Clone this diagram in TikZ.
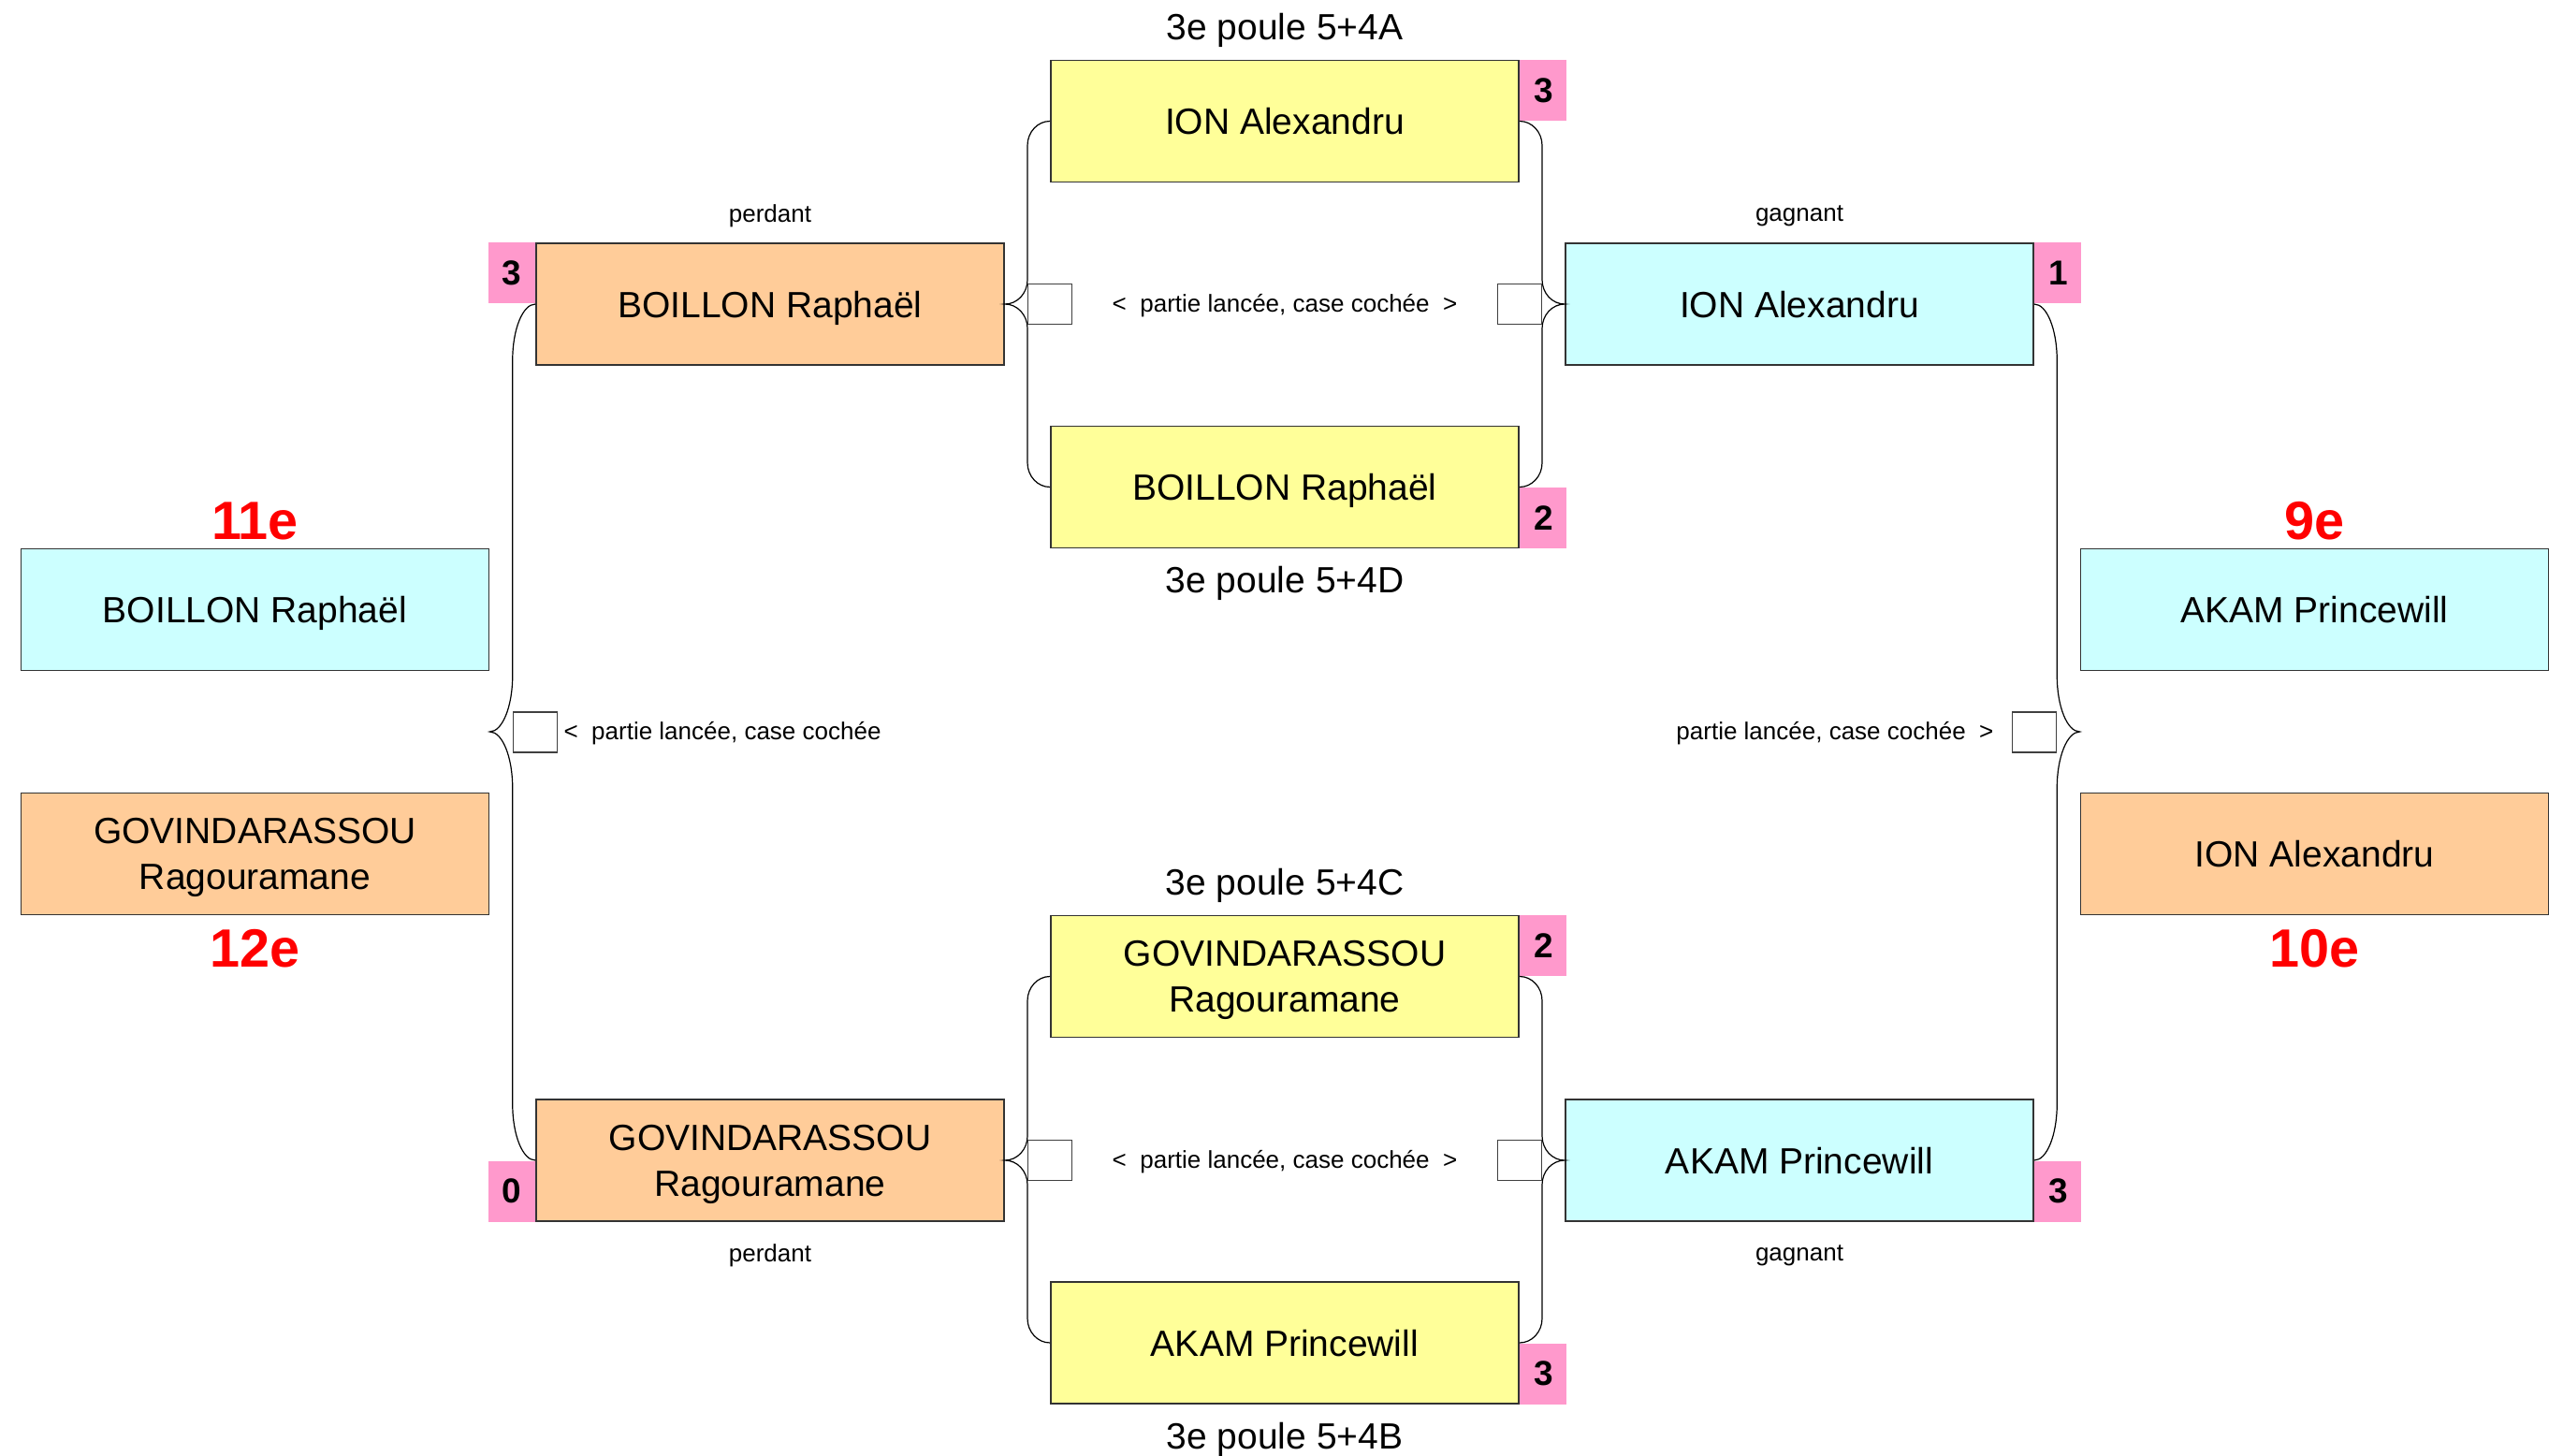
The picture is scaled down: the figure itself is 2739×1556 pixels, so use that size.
\documentclass[tikz,border=0pt]{standalone}
\usepackage{fontspec}
\setmainfont{Liberation Sans}
\usetikzlibrary{calc}
\definecolor{cyel}{HTML}{FFFF99}
\definecolor{cora}{HTML}{FFCC99}
\definecolor{ccya}{HTML}{CCFFFF}
\definecolor{cpink}{HTML}{FF99CC}
\definecolor{cred}{HTML}{FF0000}
\tikzset{
  player/.style={draw=black!80, line width=0.9pt, minimum width=250pt, minimum height=65pt,
    inner sep=0pt, align=center, text depth=0pt, font=\fontsize{19.5}{24.5}\selectfont},
  score/.style={fill=cpink, minimum width=25pt, minimum height=32.5pt, inner sep=0pt,
    font=\bfseries\fontsize{18.5}{18.5}\selectfont},
  chk/.style={draw=black!75, fill=white, line width=0.6pt, minimum width=23.5pt,
    minimum height=21.5pt, inner sep=0pt},
  small/.style={inner sep=0pt, text depth=0pt, font=\fontsize{13}{15}\selectfont},
  lbl/.style={inner sep=0pt, text depth=0pt, font=\fontsize{19.5}{22}\selectfont},
  rank/.style={inner sep=0pt, text=cred, font=\bfseries\fontsize{28.8}{30}\selectfont},
  brace line/.style={draw=black, line width=0.6pt}
}
\newcommand\drawbrace[4]{%
 \draw[brace line] let \p1=(#1),\p2=(#2),\p3=(#3),\n1={(\x1+\x2)/2},\n2={#4} in
 (\p1) .. controls ({\x1+0.552*(\n1-\x1)},\y1) and ({\n1*1pt},{\y1-0.448*\n2}) .. ({\n1*1pt},{\y1-\n2})
 -- ({\n1*1pt},{\y2+\n2})
 .. controls ({\n1*1pt},{\y2+0.448*\n2}) and ({\x2+0.552*(\n1-\x2)},\y2) .. (\p2)
 .. controls ({\x2+0.552*(\n1-\x2)},\y2) and ({\n1*1pt},{\y2-0.448*\n2}) .. ({\n1*1pt},{\y2-\n2})
 -- ({\n1*1pt},{\y3+\n2})
 .. controls ({\n1*1pt},{\y3+0.448*\n2}) and ({\x3+0.552*(\n1-\x3)},\y3) .. (\p3);}
\begin{document}
\begin{tikzpicture}[x=0.5pt,y=-0.5pt]
\useasboundingbox (0,0) rectangle (2739,1556);
% players
\node[player,fill=cyel] (yA) at (1373,129.5) {ION Alexandru};
\node[player,fill=cyel] (yD) at (1373,520.5) {BOILLON Raphaël};
\node[player,fill=cora] (oB) at (823,325) {BOILLON Raphaël};
\node[player,fill=ccya] (cI) at (1923,325) {ION Alexandru};
\node[player,fill=cyel] (yC) at (1373,1043.5) {GOVINDARASSOU\\Ragouramane};
\node[player,fill=cyel] (yB) at (1373,1435) {AKAM Princewill};
\node[player,fill=cora] (oG) at (823,1240) {GOVINDARASSOU\\Ragouramane};
\node[player,fill=ccya] (cA) at (1923,1240) {AKAM Princewill};
\node[player,fill=ccya] (fL1) at (272.5,651.5) {BOILLON Raphaël};
\node[player,fill=cora] (fL2) at (272.5,912.5) {GOVINDARASSOU\\Ragouramane};
\node[player,fill=ccya] (fR1) at (2473.5,651.5) {AKAM Princewill};
\node[player,fill=cora] (fR2) at (2473.5,912.5) {ION Alexandru};
% scores
\node[score,anchor=north west] (sA) at (yA.north east) {3};
\node[score,anchor=south west] (sD) at (yD.south east) {2};
\node[score,anchor=north west] (sC) at (yC.north east) {2};
\node[score,anchor=south west] (sB) at (yB.south east) {3};
\node[score,anchor=north east] (sOB) at (oB.north west) {3};
\node[score,anchor=south east] (sOG) at (oG.south west) {0};
\node[score,anchor=north west] (sCI) at (cI.north east) {1};
\node[score,anchor=south west] (sCA) at (cA.south east) {3};
% braces
\drawbrace{yA.west}{oB.east}{yD.west}{13pt}
\drawbrace{yA.east}{cI.west}{yD.east}{13pt}
\drawbrace{yC.west}{oG.east}{yB.west}{13pt}
\drawbrace{yC.east}{cA.west}{yB.east}{13pt}
\drawbrace{oB.west}{$(fL1.east)!0.5!(fL2.east)$}{oG.west}{30pt}
\drawbrace{cI.east}{$(fR1.west)!0.5!(fR2.west)$}{cA.east}{30pt}
% checkboxes
\node[chk] (kA1) at (yA.west |- oB.east) {};
\node[chk] (kA2) at (yA.east |- cI.west) {};
\node[chk] (kC1) at (yC.west |- oG.east) {};
\node[chk] (kC2) at (yC.east |- cA.west) {};
\node[chk] (kL) at ($(oB.west)!0.5!(oG.west)$) {};
\node[chk] (kR) at ($(cI.east)!0.5!(cA.east)$) {};
% check texts
\node[small] (tA) at ($(kA1)!0.5!(kA2)+(0,-1.5)$) {<~~partie lancée, case cochée~~>};
\node[small] (tC) at ($(kC1)!0.5!(kC2)+(0,-1.5)$) {<~~partie lancée, case cochée~~>};
\node[small,anchor=west] (tL) at ([xshift=3pt,yshift=0.75pt]kL.east) {<~~partie lancée, case cochée};
\node[small,anchor=east] (tR) at ([xshift=-9.5pt,yshift=0.75pt]kR.west) {partie lancée, case cochée~~>};
% pool labels
\node[lbl] (pA) at ($(yA.north)+(0,-35)$) {3e poule 5+4A};
\node[lbl] (pD) at ($(yD.south)+(0,33)$) {3e poule 5+4D};
\node[lbl] (pC) at ($(yC.north)+(0,-35)$) {3e poule 5+4C};
\node[lbl] (pB) at ($(yB.south)+(0,33)$) {3e poule 5+4B};
% perdant / gagnant
\node[small] (lp1) at ($(oB.north)+(0,-31)$) {perdant};
\node[small] (lp2) at ($(oG.south)+(0,33)$) {perdant};
\node[small] (lg1) at ($(cI.north)+(0,-31)$) {gagnant};
\node[small] (lg2) at ($(cA.south)+(0,33)$) {gagnant};
% ranks
\node[rank] (r11) at ($(fL1.north)+(0,-28.5)$) {11e};
\node[rank] (r12) at ($(fL2.south)+(0,35)$) {12e};
\node[rank] (r9) at ($(fR1.north)+(0,-28.5)$) {9e};
\node[rank] (r10) at ($(fR2.south)+(0,35)$) {10e};
\end{tikzpicture}
\end{document}
